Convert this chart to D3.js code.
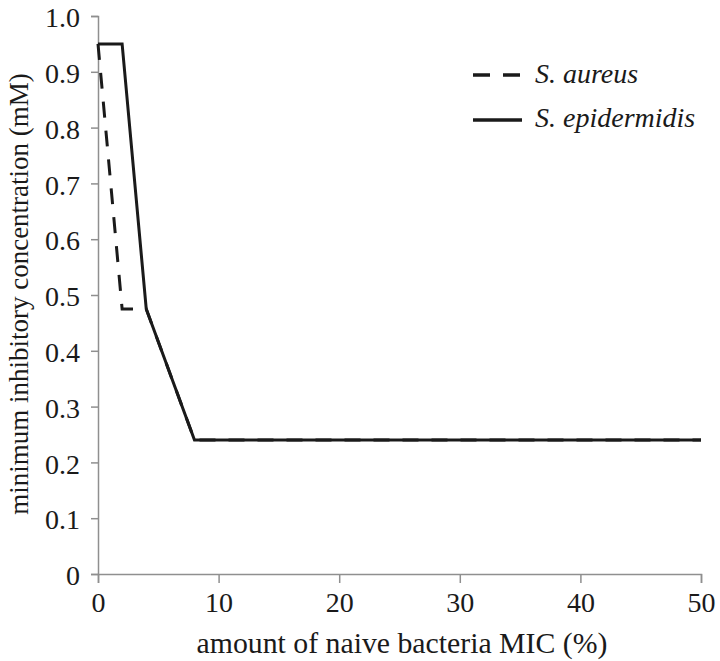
<!DOCTYPE html>
<html><head><meta charset="utf-8">
<script src="https://cdn.jsdelivr.net/npm/d3@7"></script>
<style>body{margin:0;background:#fff}svg{display:block}svg text{font-family:'Liberation Serif','Tinos','Times New Roman','DejaVu Serif',serif !important;fill:#1a1a1a}</style>
</head><body>
<script>
const xTicks = [0, 10, 20, 30, 40, 50];
const yTicks = [0, 0.1, 0.2, 0.3, 0.4, 0.5, 0.6, 0.7, 0.8, 0.9, 1.0];
const seriesNames = ["S. aureus", "S. epidermidis"];
const aureusX = [0, 2, 4, 8, 50];
const aureusY = [0.95, 0.475, 0.475, 0.24, 0.24];
const epiX = [0, 2, 4, 8, 50];
const epiY = [0.95, 0.95, 0.475, 0.24, 0.24];
const xTitle = "amount of naive bacteria MIC (%)";
const yTitle = "minimum inhibitory concentration (mM)";

const FONT = "'Liberation Serif', 'Tinos', 'Times New Roman', 'DejaVu Serif', serif";
const W = 720, H = 661;
const m = {left: 98, right: 19, top: 16, bottom: 87};
const svg = d3.select("body").append("svg").attr("width", W).attr("height", H).attr("font-family", FONT);
const x = d3.scaleLinear().domain([0, 50]).range([m.left, W - m.right]);
const y = d3.scaleLinear().domain([0, 1]).range([H - m.bottom, m.top]);

// font size that makes a string reach a target width
function fitSize(str, target, italic) {
  const t = svg.append("text").attr("font-size", 100).attr("font-style", italic ? "italic" : null).text(str);
  const w = t.node().getComputedTextLength();
  t.remove();
  return w > 0 ? 100 * target / w : 26;
}
const tickSize = Math.min(28, (fitSize("0.5", 37) + fitSize("10", 27)) / 2);
const xTitleSize = Math.min(30, fitSize(xTitle, 411));
const yTitleSize = Math.min(27, fitSize(yTitle, 480));
const legSize = Math.min(28, fitSize(seriesNames[1], 168, true));

const axisColor = "#8f8f8f";
const gx = svg.append("g").attr("transform", `translate(0,${y(0)})`)
  .call(d3.axisBottom(x).tickValues(xTicks).tickSize(9).tickPadding(6).tickFormat(d3.format("d")));
const gy = svg.append("g").attr("transform", `translate(${x(0)},0)`)
  .call(d3.axisLeft(y).tickValues(yTicks).tickSize(7).tickPadding(11).tickFormat(d => d === 0 ? "0" : d3.format(".1f")(d)));
[gx, gy].forEach(g => {
  g.attr("font-family", FONT).attr("font-size", tickSize);
  g.select(".domain").attr("stroke", axisColor).attr("stroke-width", 1.5);
  g.selectAll(".tick line").attr("stroke", axisColor).attr("stroke-width", 1.5);
  g.selectAll(".tick text").attr("font-size", tickSize).attr("fill", "#1a1a1a");
});
gx.selectAll(".tick text").attr("y", 28).attr("dy", "0.35em");
gy.selectAll(".tick text").attr("x", -18).attr("dy", "0.38em");

const line = d3.line().x(d => x(d[0])).y(d => y(d[1]));
const epi = epiX.map((v, i) => [v, epiY[i]]);
const aur = aureusX.map((v, i) => [v, aureusY[i]]);
svg.append("path").datum(aur).attr("d", line).attr("fill", "none").attr("stroke", "#1a1a1a").attr("stroke-width", 3).attr("stroke-dasharray", "16,13");
svg.append("path").datum(epi).attr("d", line).attr("fill", "none").attr("stroke", "#1a1a1a").attr("stroke-width", 3).attr("stroke-linejoin", "miter");

// legend
const leg = svg.append("g");
leg.append("line").attr("x1", 473).attr("x2", 520).attr("y1", 75).attr("y2", 75)
  .attr("stroke", "#1a1a1a").attr("stroke-width", 3.5).attr("stroke-dasharray", "17,13");
leg.append("text").attr("x", 535).attr("y", 83).attr("font-size", legSize).attr("font-style", "italic").text(seriesNames[0]);
leg.append("line").attr("x1", 473).attr("x2", 522).attr("y1", 120).attr("y2", 120)
  .attr("stroke", "#1a1a1a").attr("stroke-width", 3.5);
leg.append("text").attr("x", 535).attr("y", 127).attr("font-size", legSize).attr("font-style", "italic").text(seriesNames[1]);

svg.append("text").attr("x", 402).attr("y", 653).attr("text-anchor", "middle")
  .attr("font-size", xTitleSize).text(xTitle);
svg.append("text").attr("transform", `translate(28,294) rotate(-90)`).attr("text-anchor", "middle")
  .attr("font-size", yTitleSize).text(yTitle);
</script>
</body></html>
